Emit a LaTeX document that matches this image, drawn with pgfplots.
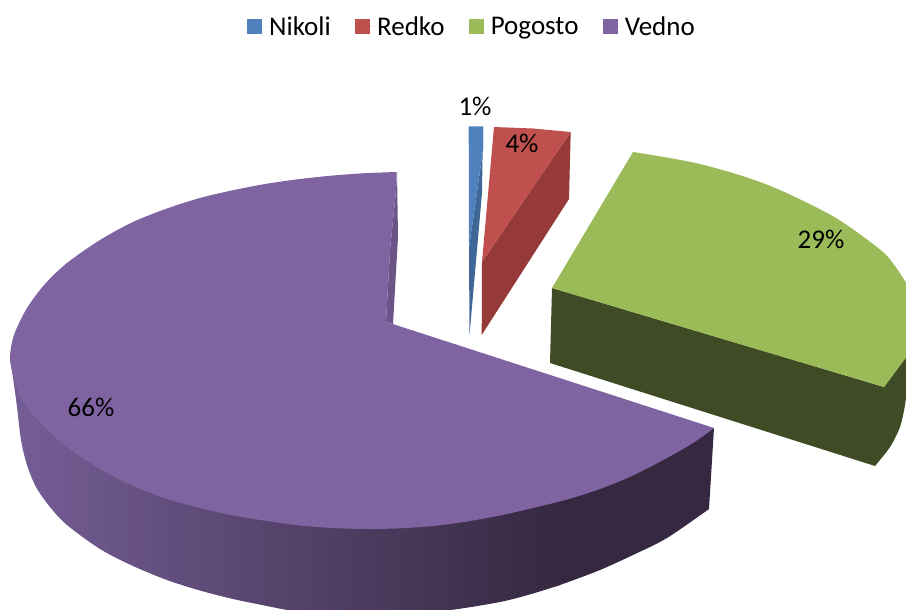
\documentclass[border=0pt]{standalone}
\usepackage{pgfplots}
\pgfplotsset{compat=1.18}
\usepackage{fontspec}
\setmainfont{Carlito}
\definecolor{cblue}{HTML}{4F81BD}
\definecolor{cblued}{HTML}{3F6797}
\definecolor{cred}{HTML}{C0504D}
\definecolor{credd}{HTML}{953A38}
\definecolor{cgreen}{HTML}{9BBB59}
\definecolor{cgreend}{HTML}{3F4B24}
\definecolor{cpurple}{HTML}{8064A2}
\definecolor{cpurplei}{HTML}{6B5488}
\definecolor{cpl}{HTML}{755E96}
\definecolor{cpd}{HTML}{352840}
\newcommand{\lab}{\fontsize{27}{31}\selectfont}
\begin{document}
\begin{tikzpicture}
\begin{axis}[
  scale only axis, width=906pt, height=610pt,
  xmin=0, xmax=906, ymin=0, ymax=610, y dir=reverse,
  hide axis,
  legend columns=4,
  legend cell align=left,
  legend image code/.code={\fill[#1] (0pt,-7.5pt) rectangle (15pt,7.5pt);\path (0pt,0pt) -- (20pt,0pt);},
  legend style={at={(axis cs:472,27)}, anchor=center, draw=none, fill=none,
    font=\lab, /tikz/every even column/.append style={column sep=22.3pt},
    nodes={inner sep=2pt}},
]
\addlegendimage{fill=cblue,draw=none}
\addlegendentry{Nikoli}
\addlegendimage{fill=cred,draw=none}
\addlegendentry{Redko}
\addlegendimage{fill=cgreen,draw=none}
\addlegendentry{Pogosto}
\addlegendimage{fill=cpurple,draw=none}
\addlegendentry{Vedno}
% Pogosto
\addplot[forget plot,smooth,fill=cgreend,draw=none] coordinates {(908,380)(905,405)(900,427)(890,447)(875,466)} -- (axis cs:550,363) -- (axis cs:552,288) -- (axis cs:884,387) -- (axis cs:906,357) -- (axis cs:908,357) --cycle;
\addplot[forget plot,smooth,fill=cgreen,draw=none] coordinates {(633,152)(700,164)(767,184.6)(833,216.3)(880,249.5)(895,266)(908,286)} -- (axis cs:908,355) -- (axis cs:884,387) -- (axis cs:552,288) --cycle;
% Redko
\addplot[forget plot,fill=credd,draw=none] coordinates {(570.7,132)(569,199)(481.7,335)(482,262)} --cycle;
\addplot[forget plot,fill=cred,draw=none] coordinates {(494,127)(533,128.5)(570.7,132)(482,262)} --cycle;
% Nikoli
\addplot[forget plot,fill=cblued,draw=none] coordinates {(483,126.3)(482,193)(469.5,335)(469,247)(483,150)} --cycle;
\addplot[forget plot,fill=cblue,draw=none] coordinates {(468.7,126.3)(483,126.3)(483,150)(469,247)} --cycle;
% Vedno: side
\addplot[forget plot,smooth,fill=cpd,draw=none] coordinates {(709,509)(667,538)(633,555)(600,570)(567,582.5)(555,586.5)} -- (axis cs:555,500) -- (axis cs:714,428) --cycle;
\addplot[forget plot,smooth,left color=cpl,right color=cpd,draw=none] coordinates {(10,357)(14,385)(17,407)(21,440)(27,465)(36,487)(50,507)(67,525)(100,549)(133,566)(167,580)(200,590.5)(233,599)(267,606)(300,612)(365,618)(443,611)(500,602)(533,593.5)(560,585)} -- (axis cs:560,501) -- (axis cs:420,501) --cycle;
\addplot[forget plot,fill=cpurplei,draw=none] coordinates {(397,172)(398,237)(393,324)(386,322)(390,250)(396,190)} --cycle;
% Vedno: top
\addplot[forget plot,smooth,fill=cpurple,draw=none] coordinates {(396.7,172)(365,173.2)(333,175.5)(300,179)(267,183.7)(233,190.2)(200,198)(167,208.5)(133,222)(100,240)(67,263)(45,284)(27,308)(14,335)(10,357)(13,375)(20,395)(33,415)(50,432)(67,447)(100,469)(133,486)(167,499)(200,508)(233,515.5)(267,521)(300,525.5)(333,528)(367,529)(400,528.3)(433,526)(467,521.5)(500,515.5)(533,508)(567,499.5)(600,489)(633,475.5)(667,458)(693,443)(714,428)} -- (axis cs:392.7,324) -- (axis cs:386,322) -- (axis cs:390,250) -- (axis cs:396,190) --cycle;
\node[font=\lab] at (axis cs:475,106) {1\%};
\node[font=\lab] at (axis cs:522,143) {4\%};
\node[font=\lab] at (axis cs:821,239) {29\%};
\node[font=\lab] at (axis cs:91,407) {66\%};
\end{axis}
\pgfresetboundingbox
\path[use as bounding box] (0pt,0pt) rectangle (906pt,610pt);
\end{tikzpicture}
\end{document}
